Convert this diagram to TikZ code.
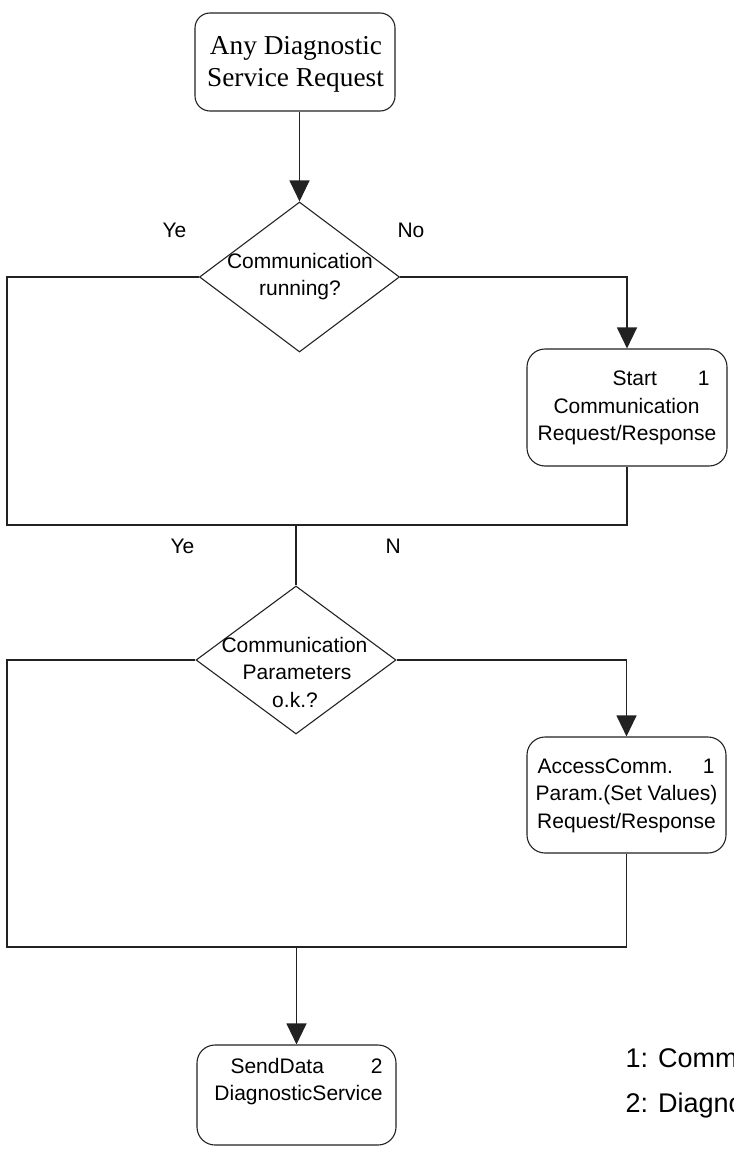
\documentclass[tikz,border=0pt]{standalone}
\usepackage{fontspec}
\setmainfont{Liberation Serif}
\setsansfont{Liberation Sans}
\usetikzlibrary{shapes.geometric,arrows.meta}
\definecolor{ln}{HTML}{222222}
\begin{document}
\begin{tikzpicture}[x=1pt,y=-1pt,line width=1.1pt,
  rbox/.style={draw=ln, rounded corners=18pt, inner sep=0pt},
  dia/.style={draw=ln, diamond, inner sep=0pt, minimum width=200pt, minimum height=150pt},
  txt/.style={font=\sffamily\fontsize{21}{25}\selectfont, inner sep=0pt, anchor=base, text=black},
  stxt/.style={font=\rmfamily\fontsize{27.3}{32}\selectfont, inner sep=0pt, anchor=base, text=black},
  ltxt/.style={font=\sffamily\fontsize{27}{32}\selectfont, inner sep=0pt, anchor=base west, text=black},
  arr/.style={draw=ln, -{Triangle[width=20pt,length=21pt]}},
  con/.style={draw=ln}]
\useasboundingbox (0,0) rectangle (733,1153);
% nodes
\node[rbox, rounded corners=15pt, minimum width=200pt, minimum height=98pt] (top) at (295,62) {};
\node[dia] (d1) at (299.5,277) {};
\node[rbox, minimum width=200pt, minimum height=117pt] (start) at (627,407.5) {};
\node[dia, minimum height=148pt] (d2) at (296,660) {};
\node[rbox, minimum width=199pt, minimum height=116pt] (access) at (626.5,795) {};
\node[rbox, minimum width=199pt, minimum height=100pt] (send) at (296.5,1095) {};
% texts
\node[stxt] (t1) at (296,55) {Any Diagnostic};
\node[stxt] (t2) at (295.5,87) {Service Request};
\node[txt] (d1a) at (300,268) {Communication};
\node[txt] (d1b) at (300,295) {running?};
\node[txt, anchor=base west] (ye1) at (162,237) {Ye};
\node[txt, anchor=base west] (no1) at (397,237) {No};
\node[txt, anchor=base west] (s1) at (612,385) {Start};
\node[txt, anchor=base east] (s1n) at (710,385) {1};
\node[txt] (s2) at (626.5,413) {Communication};
\node[txt] (s3) at (627,440) {Request/Response};
\node[txt, anchor=base west] (ye2) at (170,553) {Ye};
\node[txt, anchor=base west] (no2) at (385,553) {N};
\node[txt] (d2a) at (294.5,652) {Communication};
\node[txt] (d2b) at (297,679) {Parameters};
\node[txt] (d2c) at (295,707) {o.k.?};
\node[txt, anchor=base west] (a1) at (537,773) {AccessComm.};
\node[txt, anchor=base east] (a1n) at (715,773) {1};
\node[txt] (a2) at (626.5,800) {Param.(Set Values)};
\node[txt] (a3) at (626.5,828) {Request/Response};
\node[txt, anchor=base west] (sd1) at (230,1073) {SendData};
\node[txt, anchor=base east] (sd1n) at (383,1073) {2};
\node[txt] (sd2) at (298.5,1100) {DiagnosticService};
\node[ltxt] (lg1) at (625,1067) {1: Comm};
\node[ltxt] (lg2) at (625,1112) {2: Diagno};
% coordinates
\coordinate (L1) at (7,525);
\coordinate (L2) at (7,947);
\coordinate (m1) at (d2.north |- L1);
\coordinate (m2) at (send.north |- L2);
% connectors
\draw[arr] (d1.north |- top.south) -- (d1.north);
\draw[arr] (d1.east) -| (start.north);
\draw[con] (d1.west) -| (L1) -- (start.south |- L1) -- (start.south);
\draw[con] (m1) -- (d2.north);
\draw[arr] (d2.east) -| (access.north);
\draw[con] (d2.west) -| (L2) -- (access.south |- L2) -- (access.south);
\draw[arr] (m2) -- (send.north);
\end{tikzpicture}
\end{document}
